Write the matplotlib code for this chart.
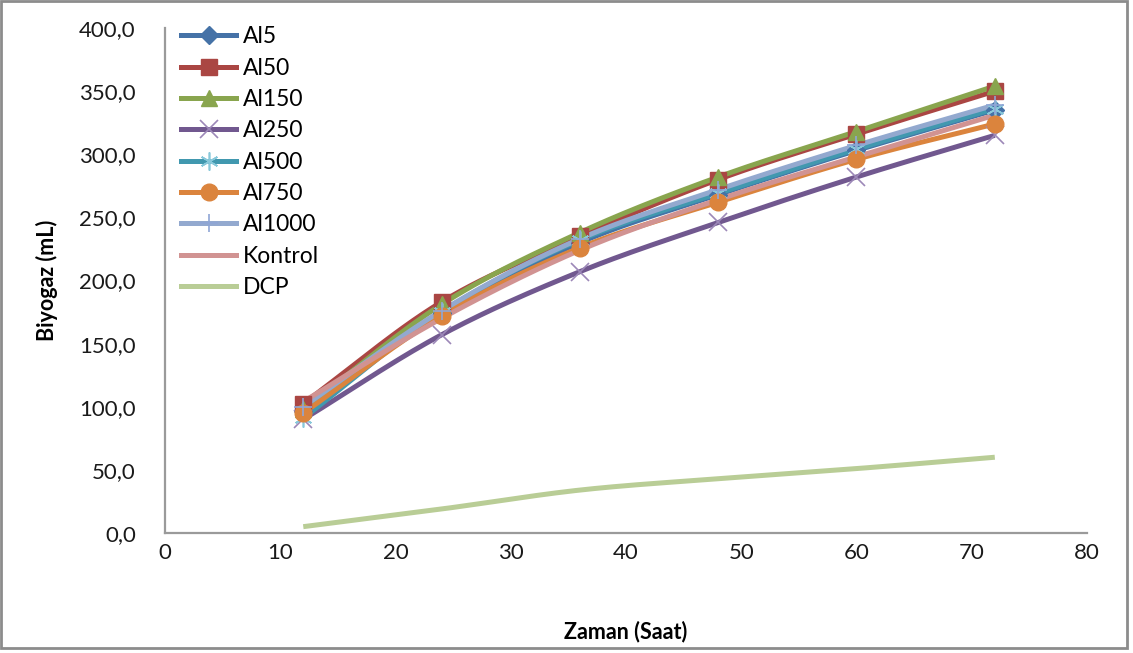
import matplotlib.pyplot as plt
import numpy as np
from matplotlib.patches import Rectangle

plt.rcParams['font.family'] = ['Lato', 'DejaVu Sans']

hours = [12, 24, 36, 48, 60, 72]

al5 = [97, 174, 230, 268, 303, 335]
al50 = [102.5, 183, 235, 280, 316, 350]
al150 = [98, 181, 238, 282, 318, 354]
al250 = [90, 157, 207, 246, 282, 315]
al500 = [91, 175, 232, 269, 304, 336]
al750 = [95, 172, 226, 262, 296, 324]
al1000 = [100, 176, 233, 272, 307, 339]
kontrol = [104, 170, 224, 264, 298, 331]
dcp = [5, 19, 34, 43, 51, 60]

series = [
    ('Al5', al5, '#4572A7', 'D'),
    ('Al50', al50, '#AA4643', 's'),
    ('Al150', al150, '#89A54E', '^'),
    ('Al250', al250, '#71588F', 'x'),
    ('Al500', al500, '#4198AF', (6, 2, 0)),
    ('Al750', al750, '#DB843D', 'o'),
    ('Al1000', al1000, '#93A9CF', '+'),
    ('Kontrol', kontrol, '#D19392', None),
    ('DCP', dcp, '#B9CD96', None),
]

# thin line-type markers get a lighter tint of the series colour
light = {'x': '#9C88B8', '+': '#8FA6D6'}


def smooth(x, y, n=30):
    # Catmull-Rom curve through the points, like a smoothed spreadsheet line
    x = np.asarray(x, float)
    y = np.asarray(y, float)
    px = np.concatenate([[2 * x[0] - x[1]], x, [2 * x[-1] - x[-2]]])
    py = np.concatenate([[2 * y[0] - y[1]], y, [2 * y[-1] - y[-2]]])
    t = np.linspace(0, 1, n)
    xs, ys = [], []
    for i in range(1, len(px) - 2):
        for p, out in ((px, xs), (py, ys)):
            p0, p1, p2, p3 = p[i - 1], p[i], p[i + 1], p[i + 2]
            out.extend(0.5 * (2 * p1 + (-p0 + p2) * t
                              + (2 * p0 - 5 * p1 + 4 * p2 - p3) * t ** 2
                              + (-p0 + 3 * p1 - 3 * p2 + p3) * t ** 3))
    return xs, ys


def marker_style(marker, color):
    if marker in light:
        return light[marker], 1.2, 13
    if isinstance(marker, tuple):
        return '#88C8DA', 1.2, 13
    return color, 1.0, (9 if marker == 'D' else 12)


fig = plt.figure(figsize=(11.33, 6.53), dpi=100)
ax = fig.add_axes([0.1456, 0.1838, 0.8138, 0.7733])

handles = []
for name, vals, color, marker in series:
    sx, sy = smooth(hours, vals)
    ax.plot(sx, sy, color=color, lw=3.6, solid_capstyle='butt', zorder=2)
    if marker is None:
        h, = ax.plot([], [], color=color, lw=3.6, label=name)
    else:
        mc, mew, ms = marker_style(marker, color)
        ax.plot(hours, vals, ls='none', marker=marker, ms=ms, mew=mew,
                mfc=mc, mec=mc, zorder=3)
        h, = ax.plot([], [], color=color, lw=3.6, marker=marker, ms=ms,
                     mfc=mc, mec=mc, mew=mew, label=name)
    handles.append(h)

ax.legend(handles=handles, loc='upper left', bbox_to_anchor=(0.0, 1.035),
          frameon=False, fontsize=16.5, handlelength=2.4, handletextpad=0.3,
          labelspacing=0.45, borderaxespad=0.3)

ax.set_xlim(0, 80)
ax.set_ylim(0, 400)
ax.set_xticks(range(0, 81, 10))
ax.set_yticks(range(0, 401, 50))
ax.set_yticklabels([f'{v},0' for v in range(0, 401, 50)])
ax.tick_params(length=0, labelsize=16, colors='#1a1a1a')
ax.tick_params(axis='y', pad=21)
ax.tick_params(axis='x', pad=7)
for side in ('top', 'right'):
    ax.spines[side].set_visible(False)
for side in ('left', 'bottom'):
    ax.spines[side].set_color('#9a9a9a')
    ax.spines[side].set_linewidth(1.6)

ax.set_xlabel('Zaman (Saat)', fontsize=15.5, fontweight='bold', labelpad=42)
ax.set_ylabel('Biyogaz (mL)', fontsize=15.5, fontweight='bold', labelpad=15)

fig.patches.append(Rectangle((0.001, 0.008), 0.994, 0.99, transform=fig.transFigure,
                             fill=False, ec='#8c8c8c', lw=2))

fig.savefig('out.png', dpi=100)
